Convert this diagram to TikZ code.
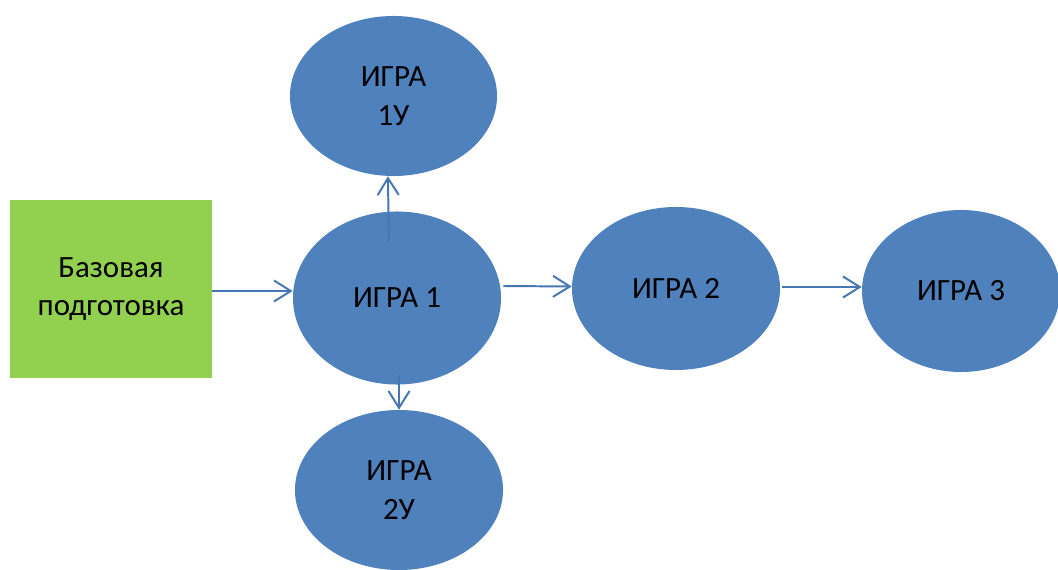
\documentclass[tikz,border=0pt]{standalone}
\usepackage{fontspec}
\setmainfont{Carlito}
\usetikzlibrary{shapes.geometric,arrows.meta}
\definecolor{gameblue}{HTML}{4F81BD}
\definecolor{linkblue}{HTML}{4776B4}
\definecolor{basegreen}{HTML}{92D050}
\tikzset{
  game/.style={ellipse,fill=gameblue,inner sep=0pt,align=center,font=\fontsize{22}{28}\selectfont},
  link/.style={draw=linkblue,line width=1.4pt,-{Straight Barb[length=12pt,width=15pt,line width=1.4pt]}}
}
\begin{document}
\begin{tikzpicture}[x=0.025cm,y=-0.025cm]
      \useasboundingbox (0,0) rectangle (1058,570);

      \node [fill=basegreen,minimum width=5.05cm,minimum height=4.45cm,align=center,
             font=\fontsize{22}{27}\selectfont] (base) at (111,289) {Базовая\\подготовка};

      \node [game,minimum width=5.2cm,minimum height=4.325cm] (g1)  at (397,298)  {ИГРА 1};
      \node [game,minimum width=5.175cm,minimum height=4cm]   (g1u) at (393.5,96) {ИГРА\\1У};
      \node [game,minimum width=5.2cm,minimum height=4cm]     (g2u) at (399,490)  {ИГРА\\2У};
      \node [game,minimum width=5.2cm,minimum height=4.075cm] (g2)  at (676,288.5) {ИГРА 2};
      \node [game,minimum width=4.95cm,minimum height=4.05cm] (g3)  at (961,291)  {ИГРА 3};

      % arrows
      \draw [link] (base.east |- 0,291) -- (g1.west |- 0,291);
      \draw [link] ([shift={(-8,30)}]g1.north) -- ([xshift=-4]g1u.south);
      \draw [link] ([shift={(2,-10)}]g1.south) -- ([xshift=0]g2u.north);
      \draw [link] ([shift={(2,-12)}]g1.east) -- ([shift={(0,-2)}]g2.west);
      \draw [link] ([shift={(2,-1.5)}]g2.east) -- ([shift={(0,-4)}]g3.west);
\end{tikzpicture}
\end{document}
